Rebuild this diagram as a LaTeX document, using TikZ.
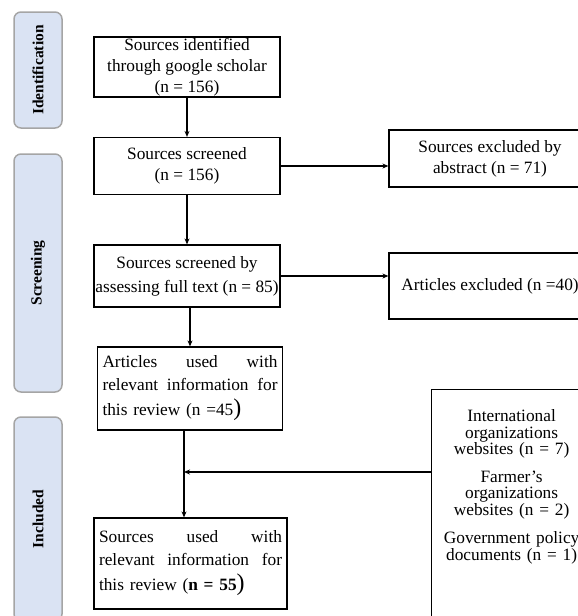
\documentclass[tikz,border=0pt]{standalone}
\usepackage{fontspec}
\setmainfont{Liberation Serif}
\usepackage{xcolor}
\usetikzlibrary{arrows.meta}
\definecolor{etapaazul}{RGB}{218,227,243}
\definecolor{etapaborda}{RGB}{165,165,165}

\begin{document}
\begin{tikzpicture}[x=1pt, y=-1pt,
    caixa/.style={draw, line width=1.2pt, inner sep=0pt, align=center,
      font=\fontsize{17.3}{21}\selectfont},
    etapa/.style={draw=etapaborda, fill=etapaazul, line width=1.5pt,
      rounded corners=7pt, rotate=90, minimum height=48pt,
      font=\fontsize{15.5}{18}\selectfont\bfseries},
    seta/.style={-{Stealth[length=6pt,width=5pt]}, line width=1.3pt}]
    \clip (0,0) rectangle (578,616);

    % Etapas
    \node[etapa, minimum width=116pt] (ident) at (38,70) {Identification};
    \node[etapa, minimum width=238pt] (triag) at (38,273) {Screening};
    \node[etapa, minimum width=204pt] (incl) at (38,519) {Included};

    % Caixas do meio
    \node[caixa, minimum width=186pt, minimum height=60pt] (id) at (187,67)
      {Sources identified\\through google scholar\\(n = 156)};
    \node[caixa, minimum width=186pt, minimum height=57pt] (triagem) at (187,166)
      {Sources screened\\(n = 156)};
    \node[caixa, minimum width=186pt, minimum height=62pt,
      font=\fontsize{17.3}{24}\selectfont] (texto) at (187,276)
      {Sources screened by\\assessing full text (n = 85)};
    \node[caixa, minimum height=83pt, align=left, text width=175pt, inner xsep=5pt,
      font=\fontsize{17.3}{22.5}\selectfont] (artigos) at (190,388.5)
      {Articles\hfill used\hfill with\\relevant\hfill information\hfill for\\[3pt]this
       review (n =45{\fontsize{24}{24}\selectfont )}};
    \node[caixa, minimum height=91pt, align=left, text width=183pt, inner xsep=5pt,
      font=\fontsize{17.3}{22.5}\selectfont] (fontes) at (190.5,563.5)
      {Sources\hfill used\hfill with\\relevant\hfill information\hfill for\\[3pt]this
       review (\textbf{n = 55}{\fontsize{24}{24}\selectfont )}};

    % Caixas da direita
    \node[caixa, minimum width=202pt, minimum height=57pt] (excl1) at (490,158.5)
      {Sources excluded by\\abstract (n = 71)};
    \node[caixa, minimum width=202pt, minimum height=66pt] (excl2) at (490,286)
      {Articles excluded (n =40)};
    \node[caixa, anchor=north west, text width=148pt, inner xsep=6pt, inner ysep=20pt,
      font=\fontsize{17.3}{16.5}\selectfont] (outras) at (431,389)
      {International\\organizations\\websites (n = 7)\\[11pt]Farmer’s\\organizations\\websites
       (n = 2)\\[12pt]Government policy\\documents (n = 1)\\[40pt]\strut};

    % Setas
    \coordinate (juncao) at (184,472);
    \draw[seta] (id) -- (triagem);
    \draw[seta] (triagem) -- (texto);
    \draw[seta] (triagem.east) -- (triagem.east -| excl1.west);
    \draw[seta] (texto.east) -- (texto.east -| excl2.west);
    \draw[seta] (artigos.north |- texto.south) -- (artigos.north);
    \draw[seta] (juncao |- artigos.south) -- (juncao |- fontes.north);
    \draw[seta] (outras.west |- juncao) -- (juncao);
\end{tikzpicture}
\end{document}
